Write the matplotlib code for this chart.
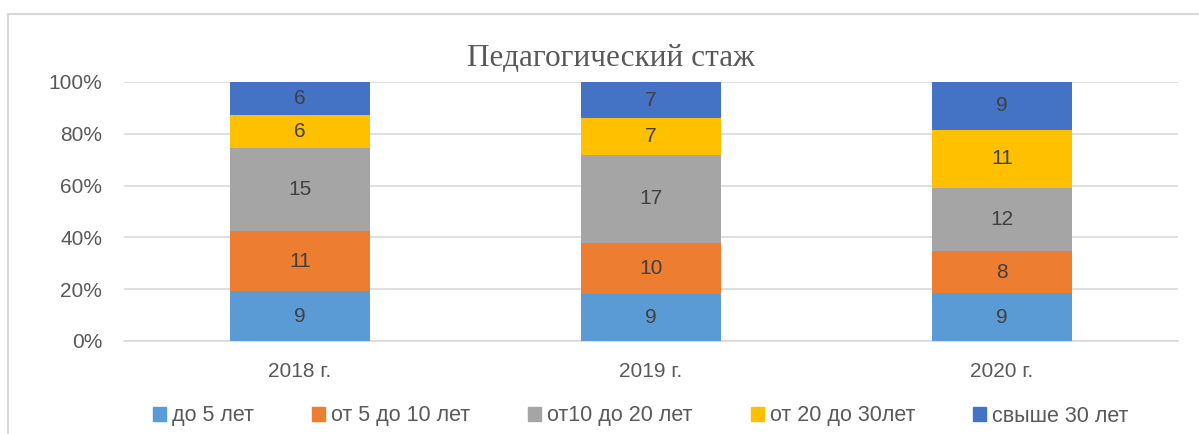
import matplotlib.pyplot as plt
import matplotlib.patches as mpatches
import numpy as np

years = ['2018 г.', '2019 г.', '2020 г.']
series = ['до 5 лет', 'от 5 до 10 лет', 'от10 до 20 лет', 'от 20 до 30лет', 'свыше 30 лет']
do5 = [9, 9, 9]
ot5_10 = [11, 10, 8]
ot10_20 = [15, 17, 12]
ot20_30 = [6, 7, 11]
svyshe30 = [6, 7, 9]
colors = ['#5B9BD5', '#ED7D31', '#A5A5A5', '#FFC000', '#4472C4']

plt.rcParams['font.family'] = ['Liberation Sans', 'DejaVu Sans']

data = np.array([do5, ot5_10, ot10_20, ot20_30, svyshe30], dtype=float)
totals = data.sum(axis=0)
share = data / totals

fig = plt.figure(figsize=(11.99, 4.34), dpi=100)
ax = fig.add_axes([0.1038, 0.2143, 0.8783, 0.5968])

# рамка диаграммы (видны только верх и левая сторона)
fig.add_artist(plt.Line2D([8/1199, 1], [1 - 14/434] * 2, color='#D9D9D9', lw=1.5, transform=fig.transFigure))
fig.add_artist(plt.Line2D([8/1199] * 2, [0, 1 - 14/434], color='#D9D9D9', lw=1.5, transform=fig.transFigure))

x = np.arange(len(years))
bottom = np.zeros(len(years))
for i, name in enumerate(series):
    ax.bar(x, share[i], bottom=bottom, width=0.4, color=colors[i], label=name, zorder=3)
    for j in range(len(years)):
        ax.text(x[j], bottom[j] + share[i][j] / 2, f'{int(data[i][j])}', ha='center', va='center',
                fontsize=15, color='#404040', zorder=4)
    bottom += share[i]

ax.set_xlim(-0.5, 2.5)
ax.set_ylim(0, 1)
ax.set_yticks(np.arange(0, 1.01, 0.2))
ax.set_yticklabels([f'{int(round(v*100))}%' for v in np.arange(0, 1.01, 0.2)])
ax.set_xticks(x)
ax.set_xticklabels(years)
ax.tick_params(length=0, labelsize=15, colors='#595959')
ax.tick_params(axis='y', pad=16)
ax.tick_params(axis='x', pad=15)
ax.grid(axis='y', color='#D9D9D9', lw=1.2, zorder=0)
for s in ['top', 'right', 'left']:
    ax.spines[s].set_visible(False)
ax.spines['bottom'].set_color('#D9D9D9')
ax.spines['bottom'].set_linewidth(1.2)

fig.text(611/1199, 1 - 58/434, 'Педагогический стаж', ha='center', va='center',
         fontsize=22.5, color='#595959', family=['Liberation Serif', 'DejaVu Serif'])

handles = [mpatches.Patch(color=c) for c in colors]
fig.legend(handles, series, loc='center', bbox_to_anchor=(641/1199, 1 - 416/434), ncol=5, frameon=False,
           fontsize=15.5, labelcolor='#595959', handlelength=0.6, handleheight=0.6,
           handletextpad=0.28, columnspacing=2.7)

plt.savefig('out.png', dpi=100)
